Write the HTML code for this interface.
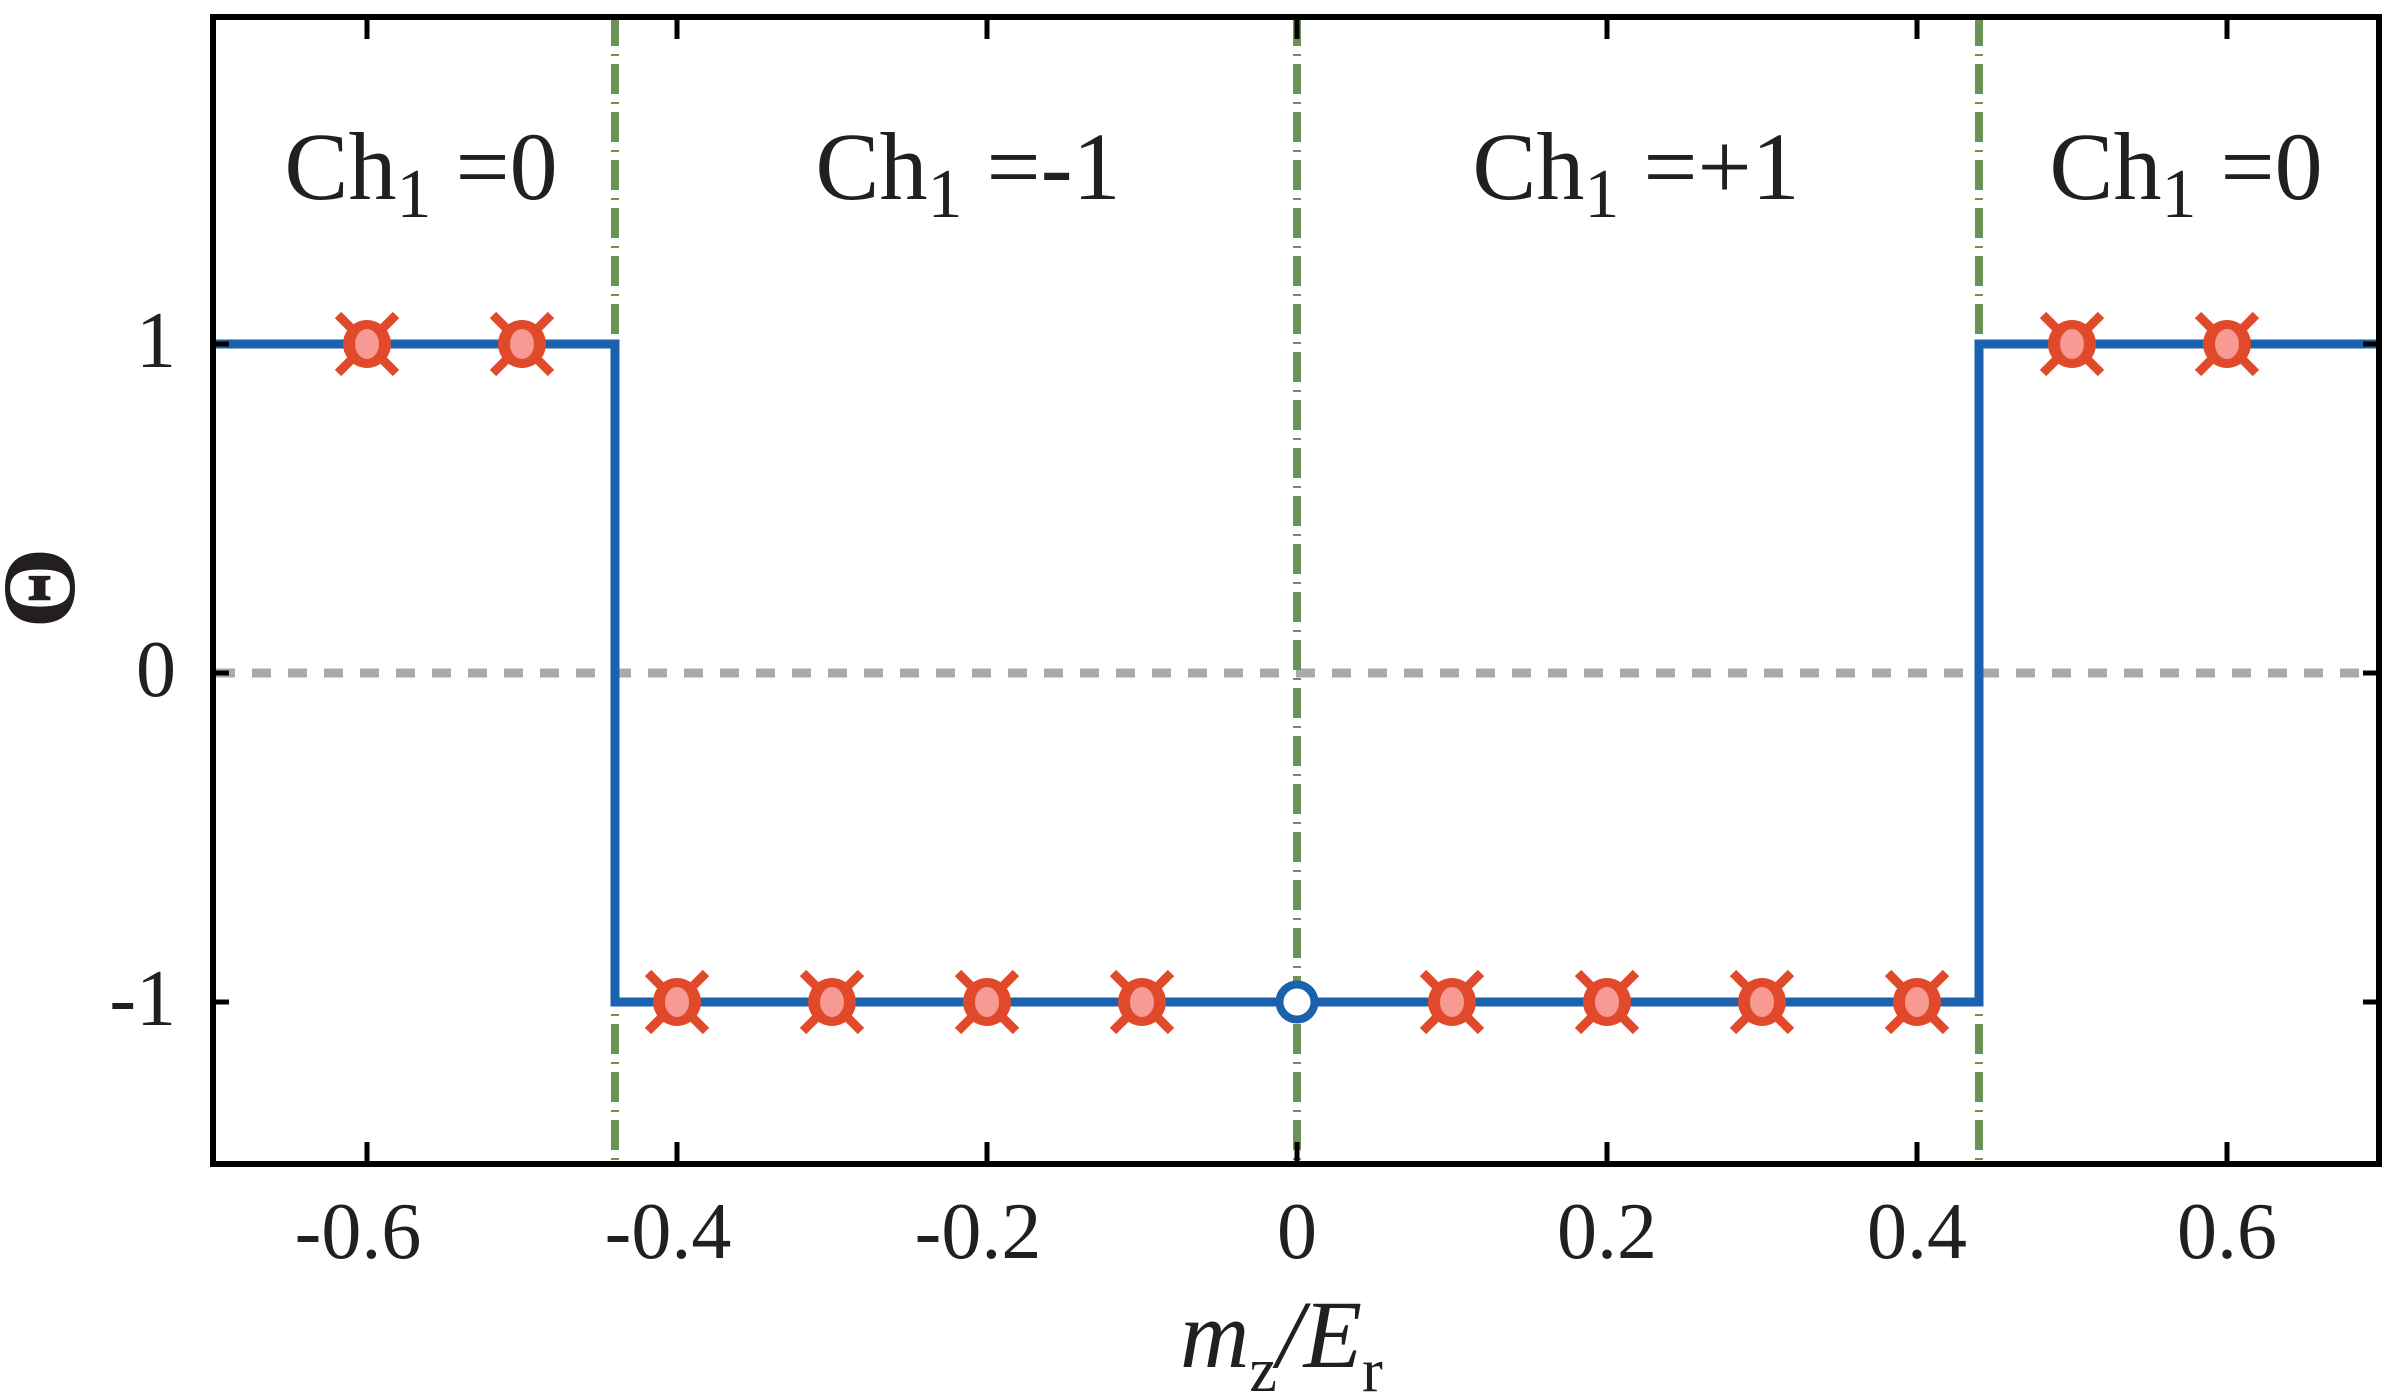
<!DOCTYPE html>
<html><head><meta charset="utf-8"><style>
html,body{margin:0;padding:0;background:#fff;}
svg{display:block;}
text{font-family:"Liberation Serif",serif;fill:#231f20;}
</style></head><body>
<svg width="2388" height="1397" viewBox="0 0 2388 1397" xmlns="http://www.w3.org/2000/svg">
<defs>
<g id="mk">
  <line x1="-29" y1="-29" x2="29" y2="29" stroke="#e04a2a" stroke-width="9"/>
  <line x1="29" y1="-29" x2="-29" y2="29" stroke="#e04a2a" stroke-width="9"/>
  <circle r="24" fill="#e04a2a"/>
  <ellipse rx="12" ry="15" fill="#f79a94"/>
</g>
</defs>
<line x1="216" y1="673" x2="2378" y2="673" stroke="#aaaaaa" stroke-width="9" stroke-dasharray="19 17"/>
<g stroke="#6a9355" stroke-width="8" stroke-dasharray="30 8 2 8">
<line x1="615" y1="16" x2="615" y2="1164"/>
<line x1="1297" y1="16" x2="1297" y2="1164"/>
<line x1="1979" y1="16" x2="1979" y2="1164"/>
</g>
<polyline points="214,344 615,344 615,1002 1979,1002 1979,344 2380,344" fill="none" stroke="#1a62ad" stroke-width="9" stroke-linejoin="miter"/>
<use href="#mk" x="367" y="344"/>
<use href="#mk" x="522" y="344"/>
<use href="#mk" x="677" y="1002"/>
<use href="#mk" x="832" y="1002"/>
<use href="#mk" x="987" y="1002"/>
<use href="#mk" x="1142" y="1002"/>
<use href="#mk" x="1452" y="1002"/>
<use href="#mk" x="1607" y="1002"/>
<use href="#mk" x="1762" y="1002"/>
<use href="#mk" x="1917" y="1002"/>
<use href="#mk" x="2072" y="344"/>
<use href="#mk" x="2227" y="344"/>
<circle cx="1297" cy="1002" r="17.5" fill="#fff" stroke="#1a62ad" stroke-width="8"/>
<rect x="213" y="17" width="2166" height="1147" fill="none" stroke="#000" stroke-width="6"/>
<g stroke="#000" stroke-width="5">
<line x1="367" y1="1164" x2="367" y2="1142"/><line x1="367" y1="17" x2="367" y2="39"/>
<line x1="677" y1="1164" x2="677" y2="1142"/><line x1="677" y1="17" x2="677" y2="39"/>
<line x1="987" y1="1164" x2="987" y2="1142"/><line x1="987" y1="17" x2="987" y2="39"/>
<line x1="1297" y1="1164" x2="1297" y2="1142"/><line x1="1297" y1="17" x2="1297" y2="39"/>
<line x1="1607" y1="1164" x2="1607" y2="1142"/><line x1="1607" y1="17" x2="1607" y2="39"/>
<line x1="1917" y1="1164" x2="1917" y2="1142"/><line x1="1917" y1="17" x2="1917" y2="39"/>
<line x1="2227" y1="1164" x2="2227" y2="1142"/><line x1="2227" y1="17" x2="2227" y2="39"/>
<line x1="213" y1="344" x2="229" y2="344"/><line x1="2379" y1="344" x2="2363" y2="344"/>
<line x1="213" y1="673" x2="229" y2="673"/><line x1="2379" y1="673" x2="2363" y2="673"/>
<line x1="213" y1="1002" x2="229" y2="1002"/><line x1="2379" y1="1002" x2="2363" y2="1002"/>
</g>
<g font-size="80" text-anchor="middle">
<text x="358" y="1258">-0.6</text>
<text x="668" y="1258">-0.4</text>
<text x="978" y="1258">-0.2</text>
<text x="1297" y="1258">0</text>
<text x="1607" y="1258">0.2</text>
<text x="1917" y="1258">0.4</text>
<text x="2227" y="1258">0.6</text>
</g>
<g font-size="80" text-anchor="end">
<text x="176" y="367">1</text>
<text x="176" y="696">0</text>
<text x="176" y="1025">-1</text>
</g>
<g font-size="96" text-anchor="middle">
<text x="421" y="199">Ch<tspan font-size="70" dy="18">1</tspan><tspan dy="-18"> =0</tspan></text>
<text x="968" y="199">Ch<tspan font-size="70" dy="18">1</tspan><tspan dy="-18"> =-1</tspan></text>
<text x="1636" y="199">Ch<tspan font-size="70" dy="18">1</tspan><tspan dy="-18"> =+1</tspan></text>
<text x="2186" y="199">Ch<tspan font-size="70" dy="18">1</tspan><tspan dy="-18"> =0</tspan></text>
</g>
<text x="1180" y="1367" font-size="96" font-style="italic">m<tspan font-size="62" font-style="normal" dy="24">z</tspan><tspan dy="-24">/E</tspan><tspan font-size="62" font-style="normal" dy="24">r</tspan></text>
<text transform="translate(74,588) rotate(-90)" font-size="104" font-weight="bold" text-anchor="middle">Θ</text>
</svg>
</body></html>
